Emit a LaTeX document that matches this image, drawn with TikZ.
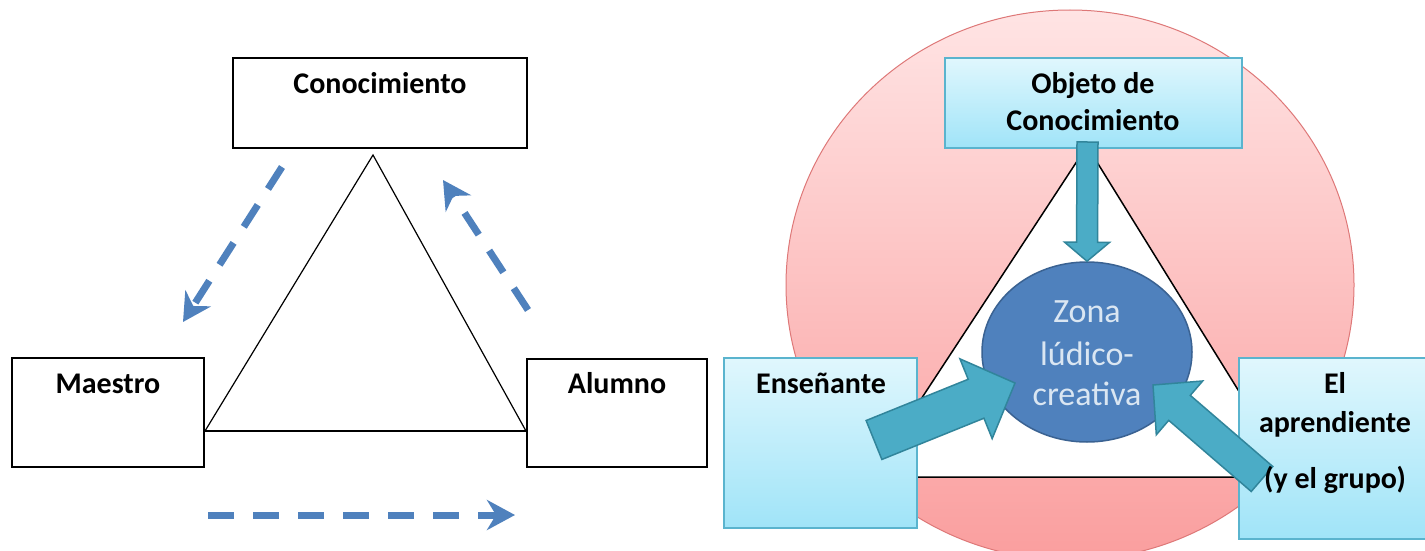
\documentclass[tikz,border=0pt]{standalone}
\usepackage{fontspec}
\setmainfont{Carlito}
\usetikzlibrary{calc,arrows.meta,shapes.geometric}

\definecolor{dashblue}{RGB}{79,129,189}
\definecolor{zonefill}{RGB}{79,129,189}
\definecolor{zoneedge}{RGB}{58,98,146}
\definecolor{zonetext}{RGB}{218,230,242}
\definecolor{tealfill}{RGB}{75,172,198}
\definecolor{tealedge}{RGB}{49,133,155}
\definecolor{cyantop}{RGB}{224,247,253}
\definecolor{cyanbot}{RGB}{160,228,248}
\definecolor{cyanedge}{RGB}{90,180,206}
\definecolor{pinktop}{RGB}{255,228,228}
\definecolor{pinkbot}{RGB}{250,158,158}
\definecolor{pinkedge}{RGB}{222,120,120}

\tikzset{
  plainbox/.style={draw=black, line width=2pt, fill=white, inner sep=0pt},
  cyanbox/.style={draw=cyanedge, line width=1.5pt, top color=cyantop,
    bottom color=cyanbot, inner sep=0pt},
  label/.style={font=\fontsize{30}{36}\selectfont\bfseries, inner sep=0pt, anchor=base},
  zonelabel/.style={font=\fontsize{34}{40}\selectfont, text=zonetext, inner sep=0pt, anchor=base},
  flow/.style={draw=dashblue, line width=7pt, dash pattern=on 26pt off 19pt,
    -{Stealth[length=28pt, width=30pt, inset=9pt]}},
  blockarrowstyle/.style={fill=tealfill, draw=tealedge, line width=1.5pt, line join=miter},
}

% block arrow: tail, tip, half shaft width, half head width, head length
\newcommand\blockarrow[5]{%
  \coordinate (ba-base) at ($(#2)!#5!(#1)$);
  \filldraw[blockarrowstyle]
    ($(#1)!#3!90:(#2)$) -- ($(ba-base)!#3!90:(#2)$) -- ($(ba-base)!#4!90:(#2)$)
    -- (#2) -- ($(ba-base)!#4!-90:(#2)$) -- ($(ba-base)!#3!-90:(#2)$)
    -- ($(#1)!#3!-90:(#2)$) -- cycle;
}

\begin{document}
\begin{tikzpicture}[x=1pt, y=-1pt]
\clip (0,0) rectangle (1425,551);
\fill[white] (0,0) rectangle (1425,551);

% ---------- classic triangle ----------
\node[plainbox, minimum width=294, minimum height=90] (con) at (380,103) {};
\node[plainbox, minimum width=192, minimum height=109] (mae) at (108,412.5) {};
\node[plainbox, minimum width=180, minimum height=108] (alu) at (617,413) {};

\node[label] (con-t) at (380,94) {Conocimiento};
\node[label] (mae-t) at (108,393) {Maestro};
\node[label] (alu-t) at (617,393) {Alumno};

\coordinate (apexL) at (373,155);
\coordinate (leftL) at (mae.east |- 0,431);
\coordinate (rightL) at (alu.west |- 0,431);
\draw[line width=1.2pt] (leftL) -- (apexL) -- (rightL);
\draw[line width=2pt] (leftL) -- (rightL);

\coordinate (f1s) at (282,167);
\coordinate (f1e) at (183,322);
\coordinate (f2s) at (528,310);
\coordinate (f2e) at (443,180);
\coordinate (f3s) at (208,515);
\coordinate (f3e) at (515,515);
\draw[flow] (f1s) -- (f1e);
\draw[flow] (f2s) -- (f2e);
\draw[flow] (f3s) -- (f3e);

% ---------- ludic-creative triangle ----------
\node[ellipse, draw=pinkedge, line width=1pt, top color=pinktop, bottom color=pinkbot,
  minimum width=568, minimum height=550, inner sep=0pt] (ring) at (1070,285) {};

\coordinate (apexR) at (1087,146);
\coordinate (leftR) at (870,477);
\coordinate (rightR) at (1292,477);
\filldraw[fill=white, draw=black, line width=1.5pt] (apexR) -- (leftR) -- (rightR) -- cycle;

\node[cyanbox, minimum width=297, minimum height=90] (obj) at (1093.5,103) {};
\node[cyanbox, minimum width=193, minimum height=170] (ens) at (820.5,443) {};
\node[cyanbox, minimum width=193, minimum height=181] (apr) at (1335.5,448.5) {};

\node[ellipse, fill=zonefill, draw=zoneedge, line width=1.5pt,
  minimum width=210, minimum height=180, inner sep=0pt] (zona) at (1087,352) {};
\node[zonelabel] (z1) at (1087,322) {Zona};
\node[zonelabel] (z2) at (1087,365) {lúdico-};
\node[zonelabel] (z3) at (1087,405) {creativa};

\coordinate (a1s) at (1087.5,142);
\coordinate (a1e) at (zona.north);
\coordinate (a2s) at (874,440);
\coordinate (a2e) at (1015,383);
\coordinate (a3s) at (1262,479);
\coordinate (a3e) at (1153,385);
\blockarrow{a1s}{a1e}{10.5pt}{22.5pt}{19pt}
\blockarrow{a2s}{a2e}{21pt}{43pt}{42pt}
\blockarrow{a3s}{a3e}{16.5pt}{35.5pt}{35pt}

\node[label] (obj-t1) at (1093,93) {Objeto de};
\node[label] (obj-t2) at (1093,130) {Conocimiento};
\node[label] (ens-t) at (821,393) {Enseñante};
\node[label] (apr-t1) at (1335,393) {El};
\node[label] (apr-t2) at (1335,432) {aprendiente};
\node[label] (apr-t3) at (1335,488) {(y el grupo)};
\end{tikzpicture}
\end{document}
